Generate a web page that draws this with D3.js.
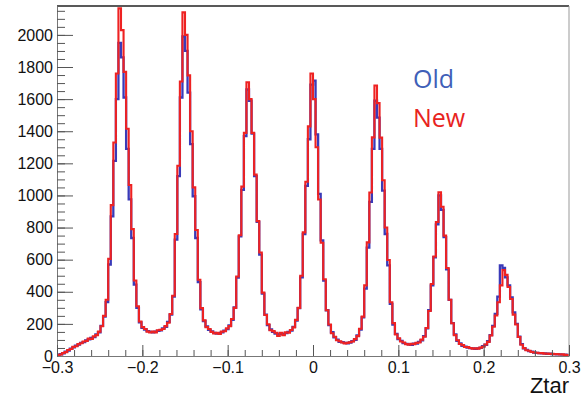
<!DOCTYPE html>
<html><head><meta charset="utf-8">
<script src="https://cdn.jsdelivr.net/npm/d3@7"></script>
<style>body{margin:0;background:#fff}svg{display:block}</style></head>
<body><svg id="c" width="583" height="398"></svg>
<script>
// ---- data ----
const binLow = -0.3, binWidth = 0.003;
const oldCounts = [
5,11,17,27,34,46,54,64,71,82,
87,97,104,112,118,135,148,188,245,335,
570,870,1215,1600,1950,1860,1610,1290,975,735,
445,300,210,176,165,155,150,148,152,157,
160,172,182,212,258,370,725,1120,1610,1990,
1900,1640,1320,995,735,460,290,218,184,163,
154,144,140,143,148,158,168,190,225,302,
488,745,1035,1370,1660,1590,1385,1120,835,632,
388,258,192,165,150,140,135,138,136,142,
150,158,182,220,298,490,760,1060,1350,1690,
1715,1380,1010,720,470,285,192,148,116,102,
88,86,82,79,84,93,100,128,165,240,
420,675,960,1290,1590,1485,1290,1030,760,565,
325,195,138,106,94,80,76,73,70,77,
78,88,98,124,172,285,440,615,820,1000,
910,740,540,350,205,135,95,78,64,59,
52,49,47,44,48,50,62,70,92,130,
188,262,370,565,548,490,440,365,272,200,
120,74,47,38,30,27,21,19,18,16,
16,14,14,12,12,10,10,8,8,7];
const newCounts = [
6,9,19,24,37,44,57,61,74,79,
90,94,108,106,122,130,152,185,250,350,
605,940,1330,1760,2165,2030,1770,1415,1065,790,
470,310,215,180,168,152,146,153,147,160,
163,168,186,207,262,375,760,1185,1710,2140,
2000,1748,1400,1050,785,475,298,222,180,168,
150,140,145,138,152,154,172,186,230,300,
495,752,1055,1390,1705,1600,1390,1130,840,645,
395,255,198,160,155,145,125,145,130,148,
145,162,178,225,300,500,770,1085,1430,1760,
1600,1300,975,705,478,285,196,142,120,98,
92,84,78,82,86,90,105,124,170,245,
440,708,1018,1362,1685,1575,1360,1095,800,598,
335,205,134,110,90,84,74,70,76,74,
82,84,102,120,174,280,448,620,835,1020,
930,750,548,350,204,130,98,75,68,56,
55,50,45,48,46,52,58,72,88,128,
182,252,335,440,535,505,430,355,258,196,
118,70,49,36,33,25,22,20,17,18,
15,16,13,14,11,12,9,10,7,6];
const xTickValues = [-0.3,-0.2,-0.1,0,0.1,0.2,0.3];
const xTickLabels = ["\u22120.3","\u22120.2","\u22120.1","0","0.1","0.2","0.3"];
const yTickValues = [0,200,400,600,800,1000,1200,1400,1600,1800,2000];
const yTickLabels = ["0","200","400","600","800","1000","1200","1400","1600","1800","2000"];
const legendLabels = ["Old","New"];
const axisTitle = "Ztar";

// ---- chart ----
const svg = d3.select("#c");
const x = d3.scaleLinear().domain([-0.3,0.3]).range([57,569]);
const y = d3.scaleLinear().domain([0,2180]).range([356,6]);
const font = "'Liberation Sans', Arial, sans-serif";

svg.append("defs").append("clipPath").attr("id","clip")
  .append("rect").attr("x",57).attr("y",6).attr("width",512).attr("height",350);

function steps(counts){
  const pts = counts.map((c,i)=>[binLow+binWidth*i, c]);
  pts.push([binLow+binWidth*counts.length, counts[counts.length-1]]);
  return d3.line().x(d=>x(d[0])).y(d=>y(d[1])).curve(d3.curveStepAfter)(pts);
}
const g = svg.append("g").attr("clip-path","url(#clip)");
g.append("path").attr("d",steps(oldCounts)).attr("fill","none")
  .attr("stroke","#3a3ab8").attr("stroke-width",2.3);
g.append("path").attr("d",steps(newCounts)).attr("fill","none")
  .attr("stroke","#ee2222").attr("stroke-width",2.1);

// frame
svg.append("line").attr("x1",57).attr("x2",569).attr("y1",6).attr("y2",6)
  .attr("stroke","#222").attr("stroke-width",1.3);
svg.append("line").attr("x1",569).attr("x2",569).attr("y1",6).attr("y2",356)
  .attr("stroke","#999").attr("stroke-width",1);

// y axis
const yMinor = d3.range(0,2180,50);
svg.append("g").attr("transform","translate(57,0)")
  .call(d3.axisLeft(y).tickValues(yMinor).tickSize(-8).tickSizeOuter(0).tickFormat(""))
  .call(s=>{s.selectAll("path").attr("stroke","#777");s.selectAll("line").attr("stroke","#555");});
svg.append("g").attr("transform","translate(57,0)")
  .call(d3.axisLeft(y).tickValues(yTickValues).tickSize(-16).tickSizeOuter(0).tickPadding(4)
    .tickFormat((d,i)=>yTickLabels[i]))
  .call(s=>{s.select("path").remove();s.selectAll("line").attr("stroke","#555");
    s.selectAll("text").attr("font-family",font).attr("font-size",16).attr("fill","#111");});

// x axis
const xMinor = d3.range(-15,16).map(k=>k*0.02);
svg.append("g").attr("transform","translate(0,356)")
  .call(d3.axisBottom(x).tickValues(xMinor).tickSize(-6).tickSizeOuter(0).tickFormat(""))
  .call(s=>{s.selectAll("path").attr("stroke","#777");s.selectAll("line").attr("stroke","#555");});
svg.append("g").attr("transform","translate(0,356)")
  .call(d3.axisBottom(x).tickValues(xTickValues).tickSize(-11).tickSizeOuter(0).tickPadding(6)
    .tickFormat((d,i)=>xTickLabels[i]))
  .call(s=>{s.select("path").remove();s.selectAll("line").attr("stroke","#555");
    s.selectAll("text").attr("font-family",font).attr("font-size",16).attr("fill","#111");});

svg.append("text").attr("x",569).attr("y",393).attr("text-anchor","end")
  .attr("font-family",font).attr("font-size",22).attr("fill","#111").text(axisTitle);

// legend
const legendColors = ["#3f5fb8","#e8231e"];
legendLabels.forEach((t,i)=>{
  svg.append("text").attr("x",413).attr("y",88+i*39)
    .attr("font-family","'Open Sans', 'Noto Sans', sans-serif").attr("font-size",25)
    .attr("fill",legendColors[i]).text(t);
});
</script></body></html>
